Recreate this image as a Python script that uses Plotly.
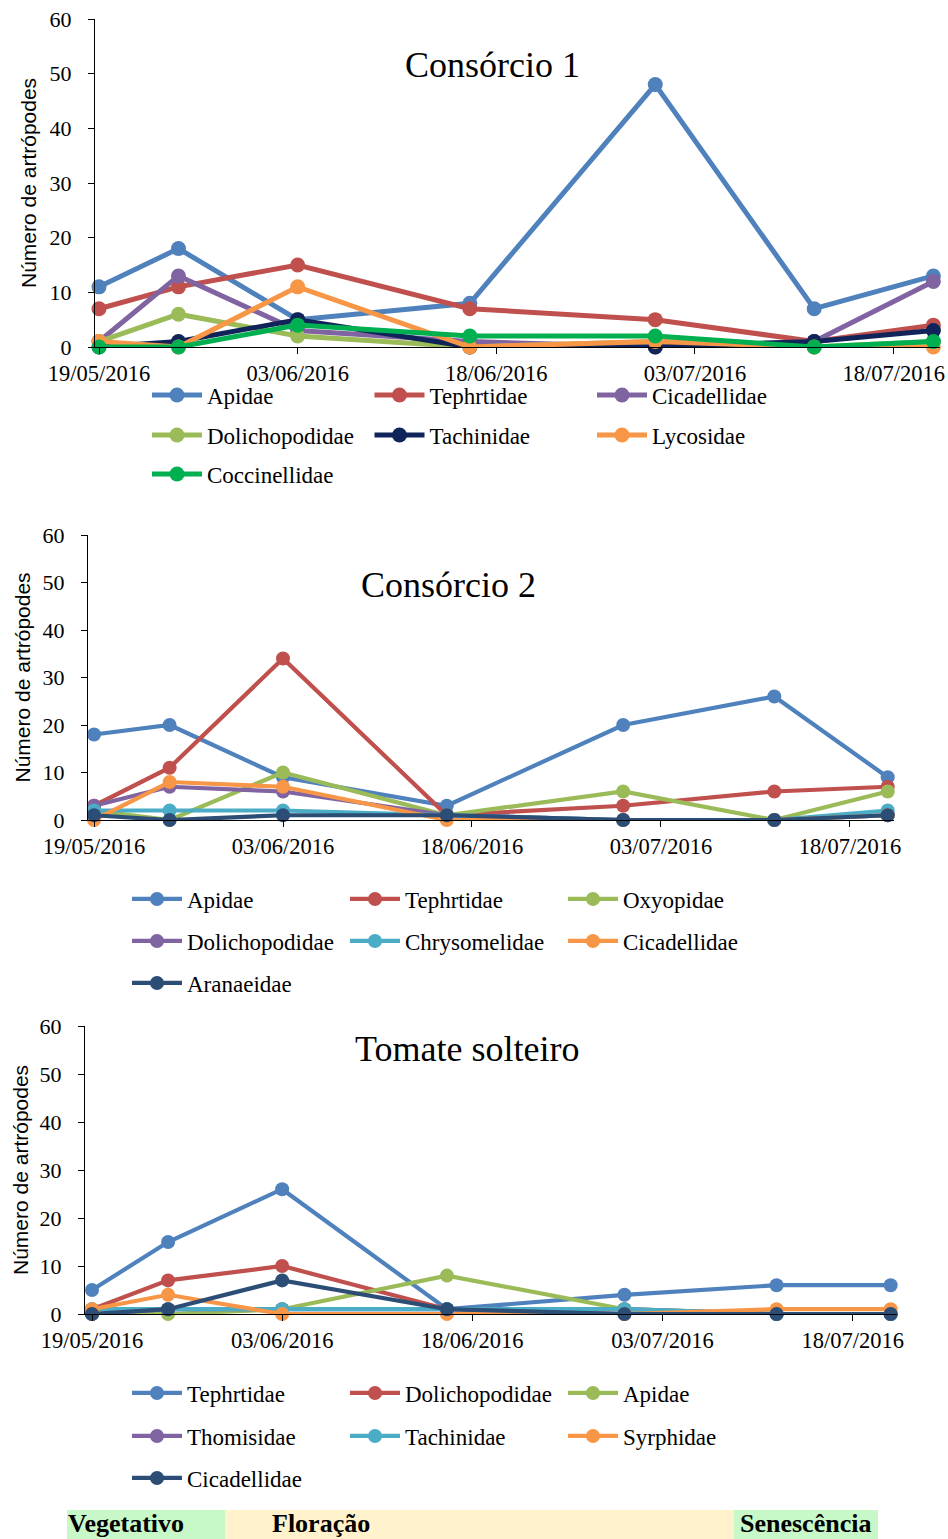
import plotly.graph_objects as go

FIG_W, FIG_H = 948, 1539

# Sampling dates and axis labels
dates = ["2016-05-19", "2016-05-25", "2016-06-03", "2016-06-16",
         "2016-06-30", "2016-07-12", "2016-07-21"]
tick_dates = ["2016-05-19", "2016-06-03", "2016-06-18", "2016-07-03", "2016-07-18"]
tick_labels = ["19/05/2016", "03/06/2016", "18/06/2016", "03/07/2016", "18/07/2016"]
y_ticks = [0, 10, 20, 30, 40, 50, 60]

# Consórcio 1
c1_names = ["Apidae", "Tephrtidae", "Cicadellidae", "Dolichopodidae",
            "Tachinidae", "Lycosidae", "Coccinellidae"]
c1_apidae = [11, 18, 5, 8, 48, 7, 13]
c1_tephrtidae = [7, 11, 15, 7, 5, 1, 4]
c1_cicadellidae = [1, 13, 3, 1, 0, 1, 12]
c1_dolichopodidae = [1, 6, 2, 0, 1, 0, 1]
c1_tachinidae = [0, 1, 5, 0, 0, 1, 3]
c1_lycosidae = [1, 0, 11, 0, 1, 0, 0]
c1_coccinellidae = [0, 0, 4, 2, 2, 0, 1]

# Consórcio 2
c2_names = ["Apidae", "Tephrtidae", "Oxyopidae", "Dolichopodidae",
            "Chrysomelidae", "Cicadellidae", "Aranaeidae"]
c2_apidae = [18, 20, 9, 3, 20, 26, 9]
c2_tephrtidae = [3, 11, 34, 1, 3, 6, 7]
c2_oxyopidae = [2, 0, 10, 1, 6, 0, 6]
c2_dolichopodidae = [3, 7, 6, 1, 0, 0, 1]
c2_chrysomelidae = [2, 2, 2, 1, 0, 0, 2]
c2_cicadellidae = [0, 8, 7, 0, 0, 0, 1]
c2_aranaeidae = [1, 0, 1, 1, 0, 0, 1]

# Tomate solteiro
c3_names = ["Tephrtidae", "Dolichopodidae", "Apidae", "Thomisidae",
            "Tachinidae", "Syrphidae", "Cicadellidae"]
c3_tephrtidae = [5, 15, 26, 1, 4, 6, 6]
c3_dolichopodidae = [1, 7, 10, 1, 0, 0, 0]
c3_apidae = [0, 0, 1, 8, 1, 0, 0]
c3_thomisidae = [0, 1, 1, 1, 1, 0, 0]
c3_tachinidae = [1, 1, 1, 1, 1, 0, 0]
c3_syrphidae = [1, 4, 0, 0, 0, 1, 1]
c3_cicadellidae = [0, 1, 7, 1, 0, 0, 0]

# Phenological phases shown under the charts
phase_names = ["Vegetativo", "Floração", "Senescência"]

BLUE, RED, PURPLE = "#4F81BD", "#C0504D", "#8064A2"
LGREEN, NAVY, ORANGE = "#9BBB59", "#10245A", "#F79646"
GREEN, CYAN, DKBLUE = "#00B050", "#4BACC6", "#2C4D75"

SERIF = "Liberation Serif, Times New Roman, serif"
SANS = "Liberation Sans, Arial, sans-serif"


def fx(p):
    return p / FIG_W


def fy(p):
    return 1 - p / FIG_H


panels = [
    dict(title="Consórcio 1", title_xy=(492, 65),
         box=(95, 940, 19, 347), xrange=["2016-05-18 16:45", "2016-07-21 12:00"],
         series=[c1_apidae, c1_tephrtidae, c1_cicadellidae, c1_dolichopodidae,
                 c1_tachinidae, c1_lycosidae, c1_coccinellidae],
         names=c1_names,
         colors=[BLUE, RED, PURPLE, LGREEN, NAVY, ORANGE, GREEN],
         lw=5, ms=15,
         legend_x=152, legend_rows=[395, 435, 474], col_w=222.5, ytitle_x=28),
    dict(title="Consórcio 2", title_xy=(448, 585),
         box=(88, 894, 535, 820), xrange=["2016-05-18 12:30", "2016-07-21 12:00"],
         series=[c2_apidae, c2_tephrtidae, c2_oxyopidae, c2_dolichopodidae,
                 c2_chrysomelidae, c2_cicadellidae, c2_aranaeidae],
         names=c2_names,
         colors=[BLUE, RED, LGREEN, PURPLE, CYAN, ORANGE, DKBLUE],
         lw=4.2, ms=14,
         legend_x=132, legend_rows=[899, 941, 983], col_w=218, ytitle_x=22),
    dict(title="Tomate solteiro", title_xy=(467, 1049),
         box=(85, 897, 1026, 1314), xrange=["2016-05-18 10:45", "2016-07-21 12:00"],
         series=[c3_tephrtidae, c3_dolichopodidae, c3_apidae, c3_thomisidae,
                 c3_tachinidae, c3_syrphidae, c3_cicadellidae],
         names=c3_names,
         colors=[BLUE, RED, LGREEN, PURPLE, CYAN, ORANGE, DKBLUE],
         lw=4.2, ms=14,
         legend_x=132, legend_rows=[1393, 1436, 1478], col_w=218, ytitle_x=20),
]

ITEM_W = 50
fig = go.Figure()
layout = dict(width=FIG_W, height=FIG_H,
              margin=dict(l=0, r=0, t=0, b=0, autoexpand=False),
              paper_bgcolor="white", plot_bgcolor="white", showlegend=True)
annotations, shapes = [], []

legend_count = 0
for i, p in enumerate(panels):
    sfx = "" if i == 0 else str(i + 1)
    l, r, t, b = p["box"]
    layout["xaxis" + sfx] = dict(
        type="date", range=p["xrange"], domain=[fx(l), fx(r)], anchor="y" + sfx,
        tickmode="array", tickvals=tick_dates, ticktext=tick_labels,
        ticks="outside", ticklen=6, tickcolor="black", tickwidth=1,
        showline=True, linecolor="black", linewidth=1,
        showgrid=False, zeroline=False, ticklabelstandoff=0,
        tickfont=dict(family=SERIF, size=22.5, color="black"))
    layout["yaxis" + sfx] = dict(
        range=[0, 60], domain=[fy(b), fy(t)], anchor="x" + sfx,
        tickmode="array", tickvals=y_ticks,
        ticks="outside", ticklen=6, tickcolor="black", tickwidth=1,
        showline=True, linecolor="black", linewidth=1,
        showgrid=False, zeroline=False, ticklabelstandoff=12,
        tickfont=dict(family=SERIF, size=22, color="black"))

    # one horizontal legend per row of three entries
    row_ids = []
    for ry in p["legend_rows"]:
        legend_count += 1
        lid = "legend" if legend_count == 1 else "legend%d" % legend_count
        row_ids.append(lid)
        layout[lid] = dict(
            orientation="h", x=fx(p["legend_x"] - 5), xanchor="left",
            y=fy(ry), yanchor="middle", bgcolor="rgba(0,0,0,0)",
            borderwidth=0, itemwidth=ITEM_W, entrywidthmode="pixels",
            entrywidth=p["col_w"] - ITEM_W - 15, traceorder="normal",
            font=dict(family=SERIF, size=23, color="black"))

    for k, (vals, name, col) in enumerate(zip(p["series"], p["names"], p["colors"])):
        fig.add_trace(go.Scatter(
            x=dates, y=vals, name=name, mode="lines+markers",
            line=dict(color=col, width=p["lw"]),
            marker=dict(color=col, size=p["ms"]),
            xaxis="x" + sfx, yaxis="y" + sfx, cliponaxis=False,
            legend=row_ids[k // 3]))

    tx, ty = p["title_xy"]
    annotations.append(dict(text=p["title"], x=fx(tx), y=fy(ty), xref="paper", yref="paper",
                            xanchor="center", yanchor="middle", showarrow=False,
                            font=dict(family=SERIF, size=36, color="black")))
    annotations.append(dict(text="Número de artrópodes", x=fx(p["ytitle_x"]), y=fy((t + b) / 2),
                            xref="paper", yref="paper", xanchor="center", yanchor="middle",
                            textangle=-90, showarrow=False,
                            font=dict(family=SANS, size=21, color="black")))

# phase band at the bottom
phase_spans = [(67, 225, "#C8F7C8", 67), (225, 734, "#FFF2CC", 271), (734, 878, "#C8F7C8", 739)]
for (x0, x1, col, tx), name in zip(phase_spans, phase_names):
    shapes.append(dict(type="rect", xref="paper", yref="paper",
                       x0=fx(x0), x1=fx(x1), y0=fy(1539), y1=fy(1510),
                       fillcolor=col, line=dict(width=0), layer="below"))
    annotations.append(dict(text="<b>%s</b>" % name, x=fx(tx), y=fy(1539),
                            xref="paper", yref="paper", xanchor="left", yanchor="bottom",
                            borderpad=0, showarrow=False,
                            font=dict(family=SERIF, size=26, color="black")))

layout["annotations"] = annotations
layout["shapes"] = shapes
fig.update_layout(**layout)
fig.write_html("out.html")
